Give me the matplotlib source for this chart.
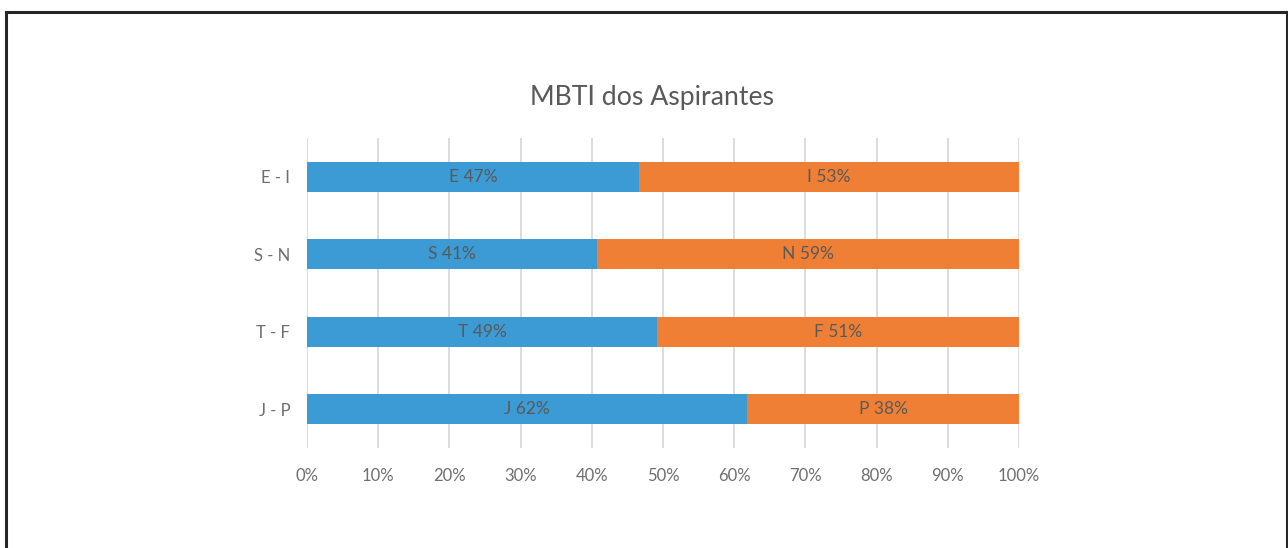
import matplotlib
matplotlib.use("Agg")
import matplotlib.pyplot as plt
from matplotlib.lines import Line2D
import numpy as np

categories = ["E - I", "S - N", "T - F", "J - P"]
first_vals = [46.6, 40.7, 49.2, 61.8]
second_vals = [53.4, 59.3, 50.8, 38.2]
first_labels = ["E 47%", "S 41%", "T 49%", "J 62%"]
second_labels = ["I 53%", "N 59%", "F 51%", "P 38%"]
xticks = [0, 10, 20, 30, 40, 50, 60, 70, 80, 90, 100]
xtick_labels = ["0%", "10%", "20%", "30%", "40%", "50%", "60%", "70%", "80%", "90%", "100%"]
title = "MBTI dos Aspirantes"

plt.rcParams['font.family'] = ['Lato', 'DejaVu Sans']

W, H = 1288, 548
fig = plt.figure(figsize=(W/100, H/100), dpi=100)
fig.patch.set_facecolor('white')
ax = fig.add_axes([307/W, 1-448/H, (1019-307)/W, (448-138)/H])

blue = "#3C9BD4"
orange = "#F07F36"
txt = "#595959"
tick_c = "#6E6E6E"

y = np.arange(len(categories))
ax.barh(y, first_vals, height=0.39, color=blue, zorder=3)
ax.barh(y, second_vals, left=first_vals, height=0.39, color=orange, zorder=3)
for i in range(len(categories)):
    ax.text(first_vals[i]/2, y[i], first_labels[i], ha='center', va='center',
            color=txt, fontsize=12.5, zorder=4)
    ax.text(first_vals[i] + second_vals[i]/2, y[i], second_labels[i], ha='center',
            va='center', color=txt, fontsize=12.5, zorder=4)

ax.set_ylim(len(categories)-0.5, -0.5)
ax.set_xlim(0, 100)
ax.set_yticks(y)
ax.set_yticklabels(categories, color=tick_c, fontsize=12)
ax.set_xticks(xticks)
ax.set_xticklabels(xtick_labels, color=tick_c, fontsize=12)
ax.tick_params(length=0, pad=12, axis='y')
ax.tick_params(length=0, pad=14.5, axis='x')
ax.grid(axis='x', color='#D9D9D9', linewidth=1.3, zorder=0)
for s in ax.spines.values():
    s.set_visible(False)

fig.text(652/W, 1-97/H, title, ha='center', va='center', fontsize=19.2, color=txt)

# outer border (top, left, right)
lw = 2.2
fig.add_artist(Line2D([5.5/W, 1286.5/W], [1-11.5/H, 1-11.5/H], color='#262626', lw=lw, transform=fig.transFigure))
fig.add_artist(Line2D([5.5/W, 5.5/W], [0, 1-11.5/H], color='#262626', lw=lw, transform=fig.transFigure))
fig.add_artist(Line2D([1286.5/W, 1286.5/W], [0, 1-11.5/H], color='#262626', lw=lw, transform=fig.transFigure))

fig.savefig("out.png", dpi=100, facecolor='white')
